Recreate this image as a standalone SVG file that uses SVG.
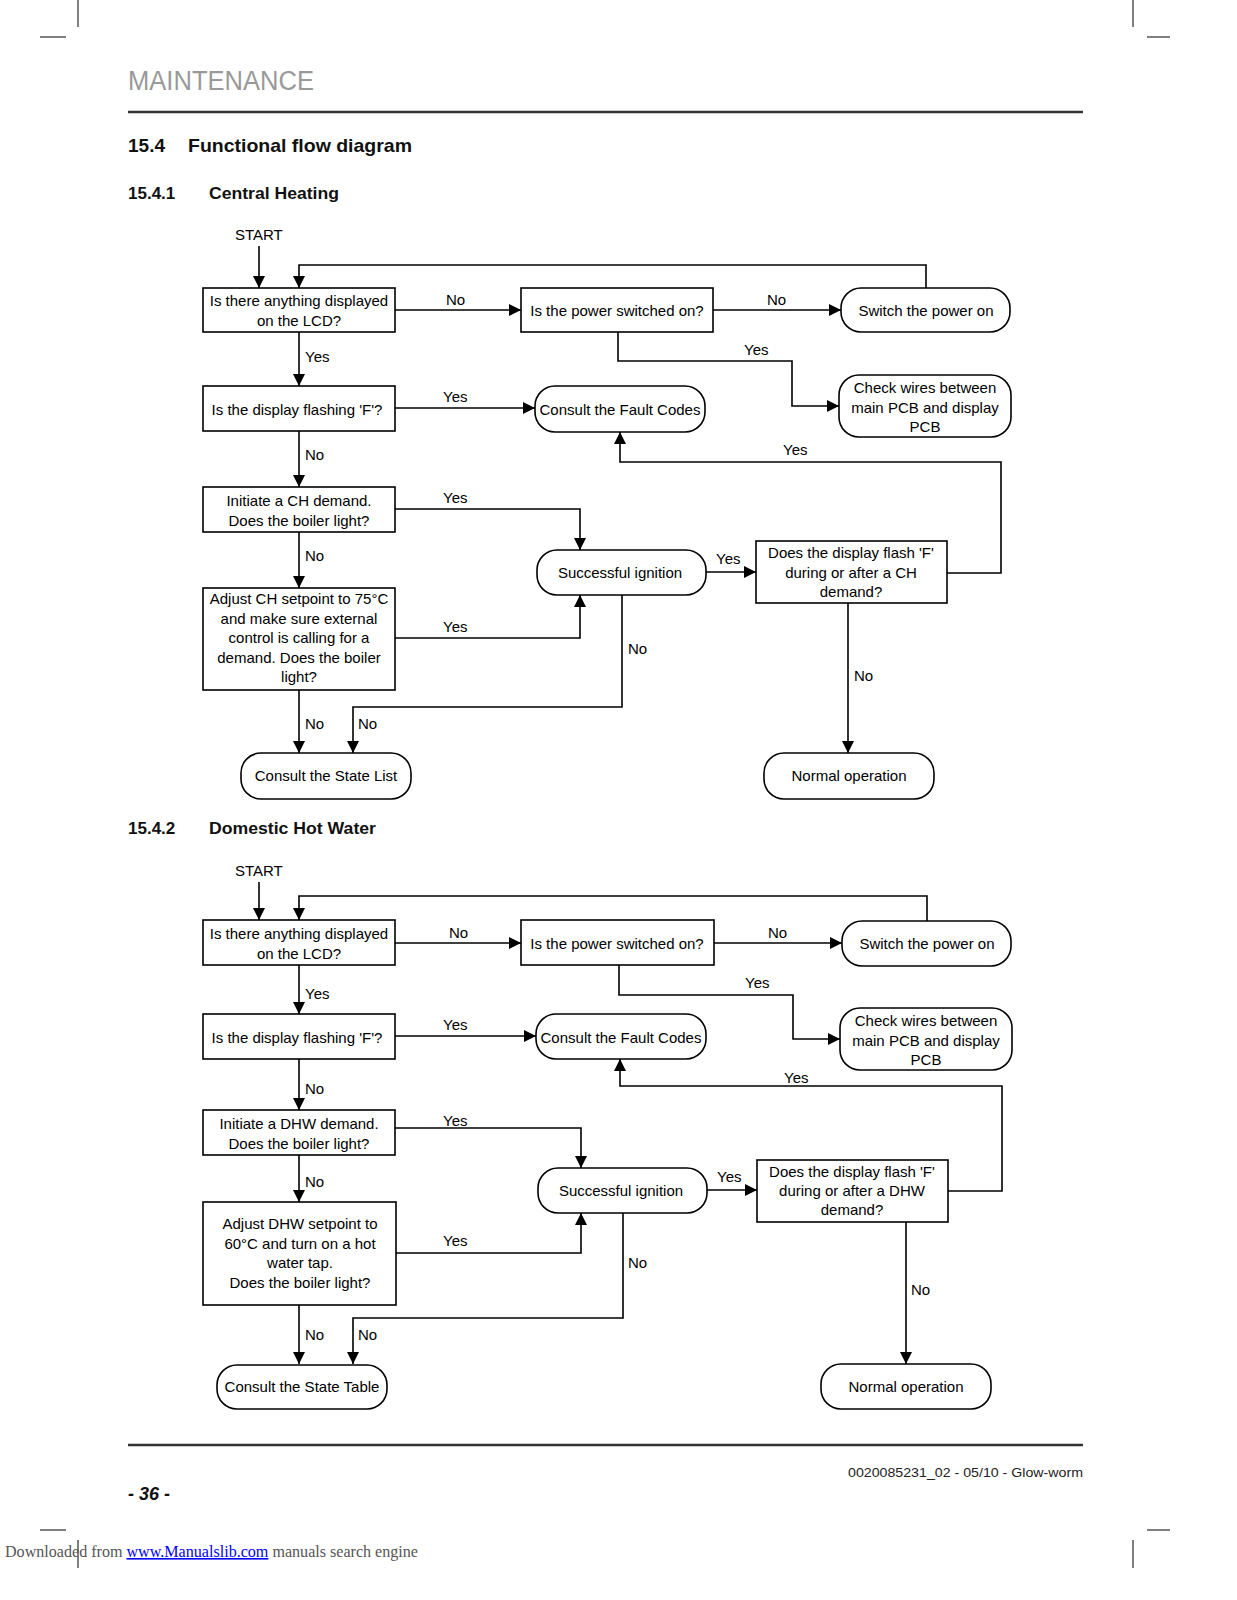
<svg xmlns="http://www.w3.org/2000/svg" width="1237" height="1600" viewBox="0 0 1237 1600">
<defs>
<marker id="ah" markerWidth="12" markerHeight="12" refX="12" refY="6" orient="auto" markerUnits="userSpaceOnUse"><path d="M0,0 L12,6 L0,12 z" fill="#000"/></marker>
<style>
.n{fill:#fff;stroke:#000;stroke-width:1.6}
.t{font-family:"Liberation Sans",Arial,sans-serif;font-size:15px;fill:#000;text-anchor:middle}
.l{font-family:"Liberation Sans",Arial,sans-serif;font-size:15px;fill:#000}
.c{fill:none;stroke:#000;stroke-width:1.6;marker-end:url(#ah)}
.h{font-family:"Liberation Sans",Arial,sans-serif;font-weight:bold;fill:#111}
.m{stroke:#000;stroke-width:1}
</style>
</defs>
<rect width="1237" height="1600" fill="#fff"/>
<g id="cropmarks">
<line class="m" x1="78" y1="0" x2="78" y2="27"/><line class="m" x1="40" y1="37" x2="66" y2="37"/>
<line class="m" x1="1133" y1="0" x2="1133" y2="27"/><line class="m" x1="1147" y1="37" x2="1170" y2="37"/>
<line class="m" x1="40" y1="1530" x2="66" y2="1530"/><line class="m" x1="1147" y1="1530" x2="1170" y2="1530"/>
<line class="m" x1="78" y1="1540" x2="78" y2="1568"/><line class="m" x1="1133" y1="1540" x2="1133" y2="1568"/>
</g>
<g id="header">
<text x="128" y="90" font-family="Liberation Sans,Arial,sans-serif" font-size="27" fill="#999" textLength="186" lengthAdjust="spacingAndGlyphs">MAINTENANCE</text>
<line x1="128" y1="112" x2="1083" y2="112" stroke="#333" stroke-width="2.5"/>
<text class="h" x="128" y="152" font-size="19">15.4</text>
<text class="h" x="188" y="152" font-size="19" textLength="224" lengthAdjust="spacingAndGlyphs">Functional flow diagram</text>
<text class="h" x="128" y="199" font-size="17">15.4.1</text>
<text class="h" x="209" y="199" font-size="17" textLength="130" lengthAdjust="spacingAndGlyphs">Central Heating</text>
<text class="h" x="128" y="834" font-size="17">15.4.2</text>
<text class="h" x="209" y="834" font-size="17" textLength="167" lengthAdjust="spacingAndGlyphs">Domestic Hot Water</text>
</g>

<!-- CH diagram -->
<g id="ch-connectors">
<path class="c" d="M259,246 V288"/>
<path class="c" d="M926,288 V265 H299 V288"/>
<path class="c" d="M395,310 H521"/>
<path class="c" d="M713,310 H841"/>
<path class="c" d="M618,332 V361 H792 V406 H839"/>
<path class="c" d="M299,332 V386"/>
<path class="c" d="M395,408 H535"/>
<path class="c" d="M947,573 H1001 V462 H620 V432"/>
<path class="c" d="M299,431 V487"/>
<path class="c" d="M395,509 H580 V550"/>
<path class="c" d="M706,572 H756"/>
<path class="c" d="M848,603 V753"/>
<path class="c" d="M299,532 V588"/>
<path class="c" d="M395,638 H580 V595"/>
<path class="c" d="M622,595 V707 H353 V753"/>
<path class="c" d="M299,690 V753"/>
</g>
<g id="ch-labels">
<text class="l" x="235" y="240">START</text>
<text class="l" x="446" y="305">No</text>
<text class="l" x="767" y="305">No</text>
<text class="l" x="744" y="355">Yes</text>
<text class="l" x="305" y="362">Yes</text>
<text class="l" x="443" y="402">Yes</text>
<text class="l" x="783" y="455">Yes</text>
<text class="l" x="305" y="460">No</text>
<text class="l" x="443" y="503">Yes</text>
<text class="l" x="716" y="564">Yes</text>
<text class="l" x="854" y="681">No</text>
<text class="l" x="305" y="561">No</text>
<text class="l" x="443" y="632">Yes</text>
<text class="l" x="628" y="654">No</text>
<text class="l" x="358" y="729">No</text>
<text class="l" x="305" y="729">No</text>
</g>
<g id="ch-a"><rect class="n" x="203" y="288" width="192" height="44"/><text class="t" x="299" y="306">Is there anything displayed</text><text class="t" x="299" y="326">on the LCD?</text></g>
<g id="ch-b"><rect class="n" x="521" y="288" width="192" height="44"/><text class="t" x="617" y="316">Is the power switched on?</text></g>
<g id="ch-switch"><rect class="n" x="841" y="288" width="169" height="44" rx="20"/><text class="t" x="926" y="316">Switch the power on</text></g>
<g id="ch-check"><rect class="n" x="839" y="375" width="172" height="62" rx="20"/><text class="t" x="925" y="393">Check wires between</text><text class="t" x="925" y="413">main PCB and display</text><text class="t" x="925" y="432">PCB</text></g>
<g id="ch-c"><rect class="n" x="203" y="386" width="192" height="45"/><text class="t" x="297" y="415">Is the display flashing 'F'?</text></g>
<g id="ch-fault"><rect class="n" x="535" y="386" width="170" height="46" rx="20"/><text class="t" x="620" y="415">Consult the Fault Codes</text></g>
<g id="ch-d"><rect class="n" x="203" y="487" width="192" height="45"/><text class="t" x="299" y="506">Initiate a CH demand.</text><text class="t" x="299" y="526">Does the boiler light?</text></g>
<g id="ch-success"><rect class="n" x="537" y="550" width="169" height="45" rx="20"/><text class="t" x="620" y="578">Successful ignition</text></g>
<g id="ch-df"><rect class="n" x="756" y="541" width="191" height="62"/><text class="t" x="851" y="558">Does the display flash 'F'</text><text class="t" x="851" y="578">during or after a CH</text><text class="t" x="851" y="597">demand?</text></g>
<g id="ch-normal"><rect class="n" x="764" y="753" width="170" height="46" rx="20"/><text class="t" x="849" y="781">Normal operation</text></g>
<g id="ch-e"><rect class="n" x="203" y="588" width="192" height="102"/><text class="t" x="299" y="604">Adjust CH setpoint to 75°C</text><text class="t" x="299" y="624">and make sure external</text><text class="t" x="299" y="643">control is calling for a</text><text class="t" x="299" y="663">demand. Does the boiler</text><text class="t" x="299" y="682">light?</text></g>
<g id="ch-state"><rect class="n" x="241" y="753" width="170" height="46" rx="20"/><text class="t" x="326" y="781">Consult the State List</text></g>

<!-- DHW diagram -->
<g id="dhw-connectors">
<path class="c" d="M259,882 V920"/>
<path class="c" d="M927,921 V896 H299 V920"/>
<path class="c" d="M395,943 H521"/>
<path class="c" d="M714,943 H842"/>
<path class="c" d="M619,965 V995 H793 V1039 H840"/>
<path class="c" d="M299,965 V1014"/>
<path class="c" d="M395,1036 H536"/>
<path class="c" d="M948,1191 H1002 V1086 H620 V1059"/>
<path class="c" d="M299,1059 V1110"/>
<path class="c" d="M395,1128 H581 V1168"/>
<path class="c" d="M707,1190 H757"/>
<path class="c" d="M906,1222 V1364"/>
<path class="c" d="M299,1155 V1202"/>
<path class="c" d="M396,1253 H581 V1213"/>
<path class="c" d="M623,1213 V1318 H353 V1364"/>
<path class="c" d="M299,1305 V1364"/>
</g>
<g id="dhw-labels">
<text class="l" x="235" y="876">START</text>
<text class="l" x="449" y="938">No</text>
<text class="l" x="768" y="938">No</text>
<text class="l" x="745" y="988">Yes</text>
<text class="l" x="305" y="999">Yes</text>
<text class="l" x="443" y="1030">Yes</text>
<text class="l" x="784" y="1083">Yes</text>
<text class="l" x="305" y="1094">No</text>
<text class="l" x="443" y="1126">Yes</text>
<text class="l" x="717" y="1182">Yes</text>
<text class="l" x="911" y="1295">No</text>
<text class="l" x="305" y="1187">No</text>
<text class="l" x="443" y="1246">Yes</text>
<text class="l" x="628" y="1268">No</text>
<text class="l" x="358" y="1340">No</text>
<text class="l" x="305" y="1340">No</text>
</g>
<g id="dhw-a"><rect class="n" x="203" y="920" width="192" height="45"/><text class="t" x="299" y="939">Is there anything displayed</text><text class="t" x="299" y="959">on the LCD?</text></g>
<g id="dhw-b"><rect class="n" x="521" y="920" width="193" height="45"/><text class="t" x="617" y="949">Is the power switched on?</text></g>
<g id="dhw-switch"><rect class="n" x="842" y="921" width="169" height="45" rx="20"/><text class="t" x="927" y="949">Switch the power on</text></g>
<g id="dhw-check"><rect class="n" x="840" y="1008" width="172" height="62" rx="20"/><text class="t" x="926" y="1026">Check wires between</text><text class="t" x="926" y="1046">main PCB and display</text><text class="t" x="926" y="1065">PCB</text></g>
<g id="dhw-c"><rect class="n" x="203" y="1014" width="192" height="45"/><text class="t" x="297" y="1043">Is the display flashing 'F'?</text></g>
<g id="dhw-fault"><rect class="n" x="536" y="1014" width="170" height="45" rx="20"/><text class="t" x="621" y="1043">Consult the Fault Codes</text></g>
<g id="dhw-d"><rect class="n" x="203" y="1110" width="192" height="45"/><text class="t" x="299" y="1129">Initiate a DHW demand.</text><text class="t" x="299" y="1149">Does the boiler light?</text></g>
<g id="dhw-success"><rect class="n" x="538" y="1168" width="169" height="45" rx="20"/><text class="t" x="621" y="1196">Successful ignition</text></g>
<g id="dhw-df"><rect class="n" x="757" y="1160" width="191" height="62"/><text class="t" x="852" y="1177">Does the display flash 'F'</text><text class="t" x="852" y="1196">during or after a DHW</text><text class="t" x="852" y="1215">demand?</text></g>
<g id="dhw-normal"><rect class="n" x="821" y="1364" width="170" height="45" rx="20"/><text class="t" x="906" y="1392">Normal operation</text></g>
<g id="dhw-e"><rect class="n" x="203" y="1202" width="193" height="103"/><text class="t" x="300" y="1229">Adjust DHW setpoint to</text><text class="t" x="300" y="1249">60°C and turn on a hot</text><text class="t" x="300" y="1268">water tap.</text><text class="t" x="300" y="1288">Does the boiler light?</text></g>
<g id="dhw-state"><rect class="n" x="217" y="1365" width="170" height="44" rx="20"/><text class="t" x="302" y="1392">Consult the State Table</text></g>

<g id="footer">
<line x1="128" y1="1445" x2="1083" y2="1445" stroke="#333" stroke-width="2.5"/>
<text x="1083" y="1477" text-anchor="end" font-family="Liberation Sans,Arial,sans-serif" font-size="13" fill="#222" textLength="235" lengthAdjust="spacingAndGlyphs">0020085231_02 - 05/10 - Glow-worm</text>
<text x="128" y="1500" font-family="Liberation Sans,Arial,sans-serif" font-size="18" font-weight="bold" font-style="italic" fill="#111">- 36 -</text>
<text x="5" y="1557" font-family="Liberation Serif,Times New Roman,serif" font-size="16" fill="#555" textLength="413" lengthAdjust="spacingAndGlyphs">Downloaded from <tspan fill="#00f" text-decoration="underline">www.Manualslib.com</tspan> manuals search engine</text>
</g>
</svg>
